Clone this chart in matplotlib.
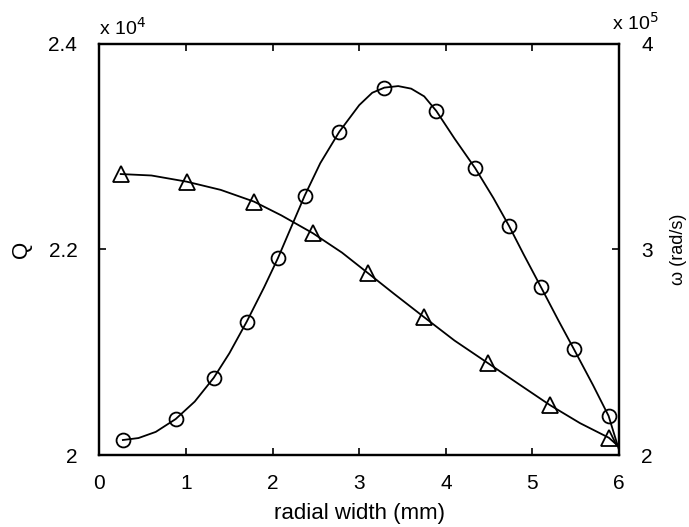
import matplotlib.pyplot as plt
import numpy as np

plt.rcParams['font.family'] = ['Liberation Sans', 'DejaVu Sans']

# circles: Q (x1e4) on left axis
x_q = [0.27, 0.88, 1.32, 1.70, 2.06, 2.37, 2.77, 3.29, 3.89, 4.34, 4.73, 5.10, 5.48, 5.88]
q = [2.0146, 2.035, 2.0752, 2.1297, 2.1914, 2.2524, 2.3146, 2.3569, 2.3348, 2.2790, 2.2229, 2.1632, 2.1029, 2.0380]
# fitted curve for Q
xq_fit = [0.27, 0.45, 0.65, 0.88, 1.1, 1.32, 1.5, 1.70, 1.9, 2.06, 2.2, 2.37, 2.55, 2.77, 3.0, 3.15,
          3.29, 3.45, 3.6, 3.75, 3.89, 4.1, 4.34, 4.55, 4.73, 4.9, 5.10, 5.3, 5.48, 5.7, 5.88, 6.0]
q_fit = [2.0146, 2.0165, 2.0225, 2.035, 2.052, 2.0752, 2.099, 2.1297, 2.163, 2.1914, 2.219, 2.2524,
         2.284, 2.3146, 2.3405, 2.3525, 2.3575, 2.359, 2.3565, 2.349, 2.3348, 2.308, 2.2790, 2.250,
         2.2229, 2.195, 2.1632, 2.131, 2.1029, 2.068, 2.0380, 2.005]

# triangles: omega (x1e5) on right axis
x_w = [0.245, 1.007, 1.784, 2.465, 3.104, 3.751, 4.490, 5.202, 5.883]
w = [3.367, 3.330, 3.233, 3.079, 2.884, 2.670, 2.446, 2.243, 2.084]
xw_fit = [0.245, 0.6, 1.007, 1.4, 1.784, 2.1, 2.465, 2.8, 3.104, 3.4, 3.751, 4.1, 4.490, 4.85,
          5.202, 5.55, 5.883, 6.0]
w_fit = [3.367, 3.360, 3.330, 3.290, 3.233, 3.166, 3.079, 2.985, 2.884, 2.785, 2.670, 2.557,
         2.446, 2.343, 2.243, 2.155, 2.084, 2.04]

fig = plt.figure(figsize=(6.89, 5.27), dpi=100)
ax = fig.add_axes([0.1444, 0.1366, 0.754, 0.78])
ax2 = ax.twinx()

ax.plot(xq_fit, q_fit, color='black', lw=1.3)
ax.plot(x_q, q, 'o', mfc='none', mec='black', ms=10, mew=1.3)
ax2.plot(xw_fit, w_fit, color='black', lw=1.3)
ax2.plot(x_w, w, '^', mfc='none', mec='black', ms=11, mew=1.3)

ax.set_xlim(0, 6)
ax.set_ylim(2.0, 2.4)
ax2.set_ylim(2, 4)
ax.set_xticks(range(7))
ax.set_yticks([2.0, 2.2, 2.4])
ax.set_yticklabels(['2', '2.2', '2.4'])
ax2.set_yticks([2, 3, 4])
ax2.set_yticklabels(['2', '3', '4'])

for a in (ax, ax2):
    for s in a.spines.values():
        s.set_linewidth(1.6)
ax.tick_params(axis='x', direction='in', top=True, length=5, width=1.2, labelsize=15, pad=14)
ax.tick_params(axis='y', direction='in', length=5, width=1.2, labelsize=15, pad=16)
ax2.tick_params(axis='y', direction='in', length=5, width=1.2, labelsize=15, pad=16)

ax.set_xlabel('radial width (mm)', fontsize=16, labelpad=7)
ax.set_ylabel('Q', fontsize=16, labelpad=12)
ax2.set_ylabel('\u03c9 (rad/s)', fontsize=13, labelpad=12)

ax.text(0.0, 1.012, 'x 10$^4$', transform=ax.transAxes, fontsize=14, ha='left', va='bottom')
ax2.text(0.986, 1.025, 'x 10$^5$', transform=ax2.transAxes, fontsize=14, ha='left', va='bottom')

plt.savefig('out.png', dpi=100)
